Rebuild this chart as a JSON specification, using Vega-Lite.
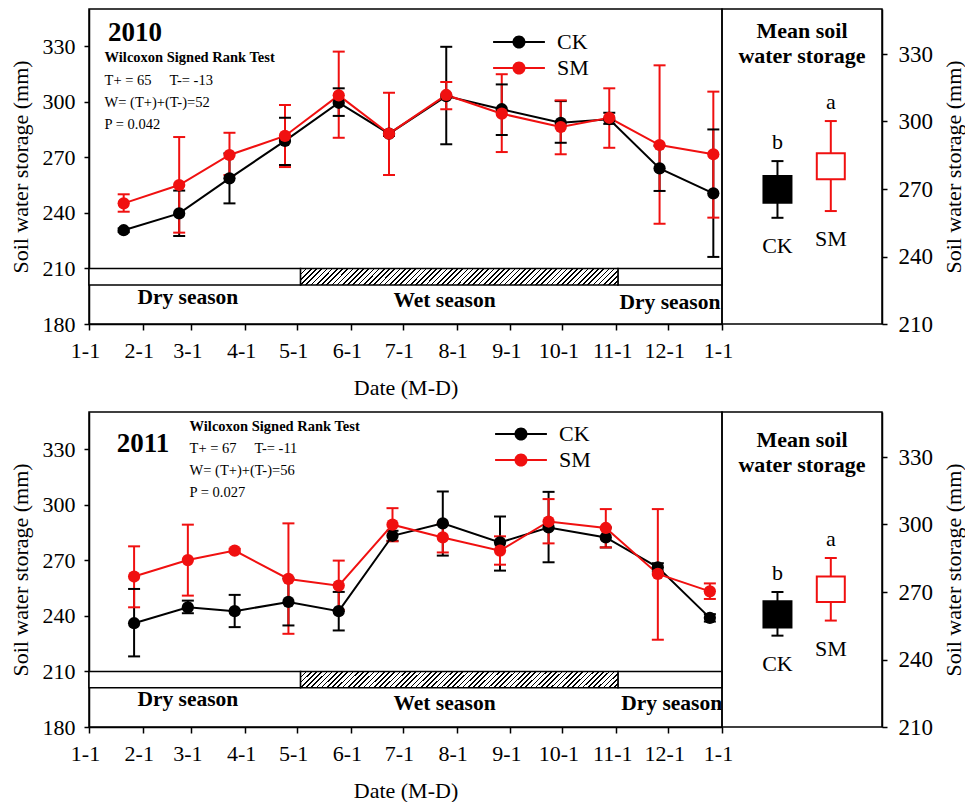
{
  "$schema": "https://vega.github.io/schema/vega-lite/v6.json",
  "padding": {"left": 8, "top": 8, "right": 0, "bottom": 0},
  "background": "white",
  "datasets": {
    "d2010": [
      {"date": "2010-01-21", "trt": "CK", "mean": 230.6, "lo": 229.6, "hi": 231.6},
      {"date": "2010-02-22", "trt": "CK", "mean": 239.7, "lo": 227.5, "hi": 252.0},
      {"date": "2010-03-23", "trt": "CK", "mean": 258.6, "lo": 245.1, "hi": 272.1},
      {"date": "2010-04-24", "trt": "CK", "mean": 278.8, "lo": 265.8, "hi": 291.3},
      {"date": "2010-05-25", "trt": "CK", "mean": 299.4, "lo": 292.3, "hi": 307.2},
      {"date": "2010-06-23", "trt": "CK", "mean": 282.7, "lo": 281.5, "hi": 283.9},
      {"date": "2010-07-26", "trt": "CK", "mean": 303.0, "lo": 277.0, "hi": 329.6},
      {"date": "2010-08-27", "trt": "CK", "mean": 295.9, "lo": 282.0, "hi": 309.3},
      {"date": "2010-09-30", "trt": "CK", "mean": 288.6, "lo": 277.8, "hi": 300.3},
      {"date": "2010-10-28", "trt": "CK", "mean": 290.5, "lo": 288.0, "hi": 294.0},
      {"date": "2010-11-26", "trt": "CK", "mean": 264.0, "lo": 251.8, "hi": 276.2},
      {"date": "2010-12-27", "trt": "CK", "mean": 250.5, "lo": 216.2, "hi": 285.0},
      {"date": "2010-01-21", "trt": "SM", "mean": 245.1, "lo": 240.6, "hi": 250.0},
      {"date": "2010-02-22", "trt": "SM", "mean": 255.0, "lo": 229.3, "hi": 280.9},
      {"date": "2010-03-23", "trt": "SM", "mean": 271.2, "lo": 260.4, "hi": 283.2},
      {"date": "2010-04-24", "trt": "SM", "mean": 281.5, "lo": 264.7, "hi": 298.2},
      {"date": "2010-05-25", "trt": "SM", "mean": 303.4, "lo": 280.5, "hi": 327.0},
      {"date": "2010-06-23", "trt": "SM", "mean": 282.7, "lo": 260.4, "hi": 304.8},
      {"date": "2010-07-26", "trt": "SM", "mean": 303.6, "lo": 295.9, "hi": 310.6},
      {"date": "2010-08-27", "trt": "SM", "mean": 293.5, "lo": 272.8, "hi": 314.8},
      {"date": "2010-09-30", "trt": "SM", "mean": 286.3, "lo": 271.6, "hi": 300.7},
      {"date": "2010-10-28", "trt": "SM", "mean": 291.3, "lo": 275.1, "hi": 307.2},
      {"date": "2010-11-26", "trt": "SM", "mean": 276.6, "lo": 234.1, "hi": 319.6},
      {"date": "2010-12-27", "trt": "SM", "mean": 271.6, "lo": 237.4, "hi": 305.4}
    ],
    "d2011": [
      {"date": "2011-01-27", "trt": "CK", "mean": 236.0, "lo": 218.1, "hi": 254.5},
      {"date": "2011-02-27", "trt": "CK", "mean": 244.6, "lo": 241.4, "hi": 248.2},
      {"date": "2011-03-26", "trt": "CK", "mean": 242.5, "lo": 233.9, "hi": 251.3},
      {"date": "2011-04-26", "trt": "CK", "mean": 247.5, "lo": 234.8, "hi": 260.2},
      {"date": "2011-05-25", "trt": "CK", "mean": 242.5, "lo": 232.1, "hi": 252.9},
      {"date": "2011-06-25", "trt": "CK", "mean": 283.2, "lo": 280.5, "hi": 285.9},
      {"date": "2011-07-24", "trt": "CK", "mean": 289.9, "lo": 272.5, "hi": 307.1},
      {"date": "2011-08-26", "trt": "CK", "mean": 279.6, "lo": 264.4, "hi": 293.6},
      {"date": "2011-09-23", "trt": "CK", "mean": 287.7, "lo": 268.9, "hi": 306.9},
      {"date": "2011-10-26", "trt": "CK", "mean": 282.3, "lo": 276.9, "hi": 287.7},
      {"date": "2011-11-25", "trt": "CK", "mean": 266.2, "lo": 264.0, "hi": 268.4},
      {"date": "2011-12-25", "trt": "CK", "mean": 238.9, "lo": 236.9, "hi": 240.9},
      {"date": "2011-01-27", "trt": "SM", "mean": 261.2, "lo": 244.6, "hi": 277.5},
      {"date": "2011-02-27", "trt": "SM", "mean": 270.1, "lo": 250.9, "hi": 289.2},
      {"date": "2011-03-26", "trt": "SM", "mean": 275.2, "lo": 274.2, "hi": 276.2},
      {"date": "2011-04-26", "trt": "SM", "mean": 259.9, "lo": 230.3, "hi": 289.9},
      {"date": "2011-05-25", "trt": "SM", "mean": 256.3, "lo": 243.2, "hi": 269.8},
      {"date": "2011-06-25", "trt": "SM", "mean": 289.2, "lo": 280.2, "hi": 298.1},
      {"date": "2011-07-24", "trt": "SM", "mean": 282.3, "lo": 274.2, "hi": 289.9},
      {"date": "2011-08-26", "trt": "SM", "mean": 275.2, "lo": 267.6, "hi": 282.9},
      {"date": "2011-09-23", "trt": "SM", "mean": 290.9, "lo": 279.1, "hi": 303.0},
      {"date": "2011-10-26", "trt": "SM", "mean": 287.4, "lo": 276.9, "hi": 297.6},
      {"date": "2011-11-25", "trt": "SM", "mean": 262.6, "lo": 227.1, "hi": 297.6},
      {"date": "2011-12-25", "trt": "SM", "mean": 253.2, "lo": 249.1, "hi": 257.5}
    ],
    "m2010": [
      {"trt": "CK", "box_lo": 263.9, "box_hi": 275.8, "wlo": 257.2, "whi": 282.4, "letter": "b"},
      {"trt": "SM", "box_lo": 274.3, "box_hi": 285.9, "wlo": 260.2, "whi": 300.2, "letter": "a"}
    ],
    "m2011": [
      {"trt": "CK", "box_lo": 254.2, "box_hi": 265.9, "wlo": 250.6, "whi": 270.0, "letter": "b"},
      {"trt": "SM", "box_lo": 265.6, "box_hi": 276.9, "wlo": 257.3, "whi": 285.1, "letter": "a"}
    ],
    "s2010": [
      {"season": "Dry", "start": "2010-01-01", "end": "2010-05-03"},
      {"season": "Wet", "start": "2010-05-03", "end": "2010-11-02"},
      {"season": "Dry", "start": "2010-11-02", "end": "2011-01-01"}
    ],
    "s2011": [
      {"season": "Dry", "start": "2011-01-01", "end": "2011-05-03"},
      {"season": "Wet", "start": "2011-05-03", "end": "2011-11-02"},
      {"season": "Dry", "start": "2011-11-02", "end": "2012-01-01"}
    ]
  },
  "config": {
    "font": "Liberation Serif",
    "view": {"stroke": "black", "strokeWidth": 1.5},
    "axis": {"grid": false, "domainColor": "black", "domainWidth": 1.5, "tickColor": "black", "tickWidth": 1.5, "tickSize": 5, "labelFont": "Liberation Serif", "labelFontSize": 22, "labelColor": "black", "labelPadding": 9, "titleFont": "Liberation Serif", "titleFontSize": 22, "titleFontWeight": "normal", "titleColor": "black"},
    "text": {"font": "Liberation Serif", "color": "black"},
    "title": {"font": "Liberation Serif", "color": "black"}
  },
  "spacing": 12,
  "resolve": {"scale": {"color": "independent", "fill": "independent", "stroke": "independent"}, "legend": {"color": "independent", "fill": "independent", "stroke": "independent"}},
  "vconcat": [
    {
      "spacing": 0,
      "bounds": "flush",
      "resolve": {"scale": {"color": "independent", "fill": "independent", "stroke": "independent"}, "legend": {"color": "independent", "fill": "independent", "stroke": "independent"}},
      "hconcat": [
        {
          "width": 633,
          "height": 315,
          "layer": [
            {
              "data": {"name": "s2010"},
              "transform": [{"filter": "datum.season === 'Dry'"}],
              "mark": {"type": "rect", "fill": "white", "stroke": "black", "strokeWidth": 1.5},
              "encoding": {
                "x": {"field": "start", "type": "temporal", "scale": {"type": "utc", "domain": [{"year": 2010, "month": 1, "date": 1, "utc": true}, {"year": 2011, "month": 1, "date": 1, "utc": true}]}, "axis": {"title": "Date (M-D)", "labelExpr": "utcFormat(datum.value, '%-m-%-d')", "tickCount": {"interval": "month", "step": 1}, "labelFlush": false, "labelOverlap": false, "labelOffset": -4, "labelPadding": 10, "tickSize": 6, "titlePadding": 16}},
                "x2": {"field": "end"},
                "y": {"datum": 201, "type": "quantitative", "scale": {"domain": [180, 350], "nice": false, "zero": false}, "axis": {"title": "Soil water storage (mm)", "values": [180, 210, 240, 270, 300, 330], "titlePadding": 10}},
                "y2": {"datum": 210}
              }
            },
            {
              "data": {"name": "s2010"},
              "transform": [{"filter": "datum.season === 'Wet'"}],
              "mark": {"type": "rect", "stroke": "black", "strokeWidth": 1.5,
                "fill": {"gradient": "linear", "x1": 0, "y1": 0, "x2": 1.05, "y2": 0.055, "stops": [
          {"offset": 0, "color": "#000"}, {"offset": 0.005, "color": "#000"}, {"offset": 0.005, "color": "#fff"}, {"offset": 0.015625, "color": "#fff"},
          {"offset": 0.015625, "color": "#000"}, {"offset": 0.020625, "color": "#000"}, {"offset": 0.020625, "color": "#fff"}, {"offset": 0.03125, "color": "#fff"},
          {"offset": 0.03125, "color": "#000"}, {"offset": 0.03625, "color": "#000"}, {"offset": 0.03625, "color": "#fff"}, {"offset": 0.046875, "color": "#fff"},
          {"offset": 0.046875, "color": "#000"}, {"offset": 0.051875, "color": "#000"}, {"offset": 0.051875, "color": "#fff"}, {"offset": 0.0625, "color": "#fff"},
          {"offset": 0.0625, "color": "#000"}, {"offset": 0.0675, "color": "#000"}, {"offset": 0.0675, "color": "#fff"}, {"offset": 0.078125, "color": "#fff"},
          {"offset": 0.078125, "color": "#000"}, {"offset": 0.083125, "color": "#000"}, {"offset": 0.083125, "color": "#fff"}, {"offset": 0.09375, "color": "#fff"},
          {"offset": 0.09375, "color": "#000"}, {"offset": 0.09875, "color": "#000"}, {"offset": 0.09875, "color": "#fff"}, {"offset": 0.109375, "color": "#fff"},
          {"offset": 0.109375, "color": "#000"}, {"offset": 0.114375, "color": "#000"}, {"offset": 0.114375, "color": "#fff"}, {"offset": 0.125, "color": "#fff"},
          {"offset": 0.125, "color": "#000"}, {"offset": 0.13, "color": "#000"}, {"offset": 0.13, "color": "#fff"}, {"offset": 0.140625, "color": "#fff"},
          {"offset": 0.140625, "color": "#000"}, {"offset": 0.145625, "color": "#000"}, {"offset": 0.145625, "color": "#fff"}, {"offset": 0.15625, "color": "#fff"},
          {"offset": 0.15625, "color": "#000"}, {"offset": 0.16125, "color": "#000"}, {"offset": 0.16125, "color": "#fff"}, {"offset": 0.171875, "color": "#fff"},
          {"offset": 0.171875, "color": "#000"}, {"offset": 0.176875, "color": "#000"}, {"offset": 0.176875, "color": "#fff"}, {"offset": 0.1875, "color": "#fff"},
          {"offset": 0.1875, "color": "#000"}, {"offset": 0.1925, "color": "#000"}, {"offset": 0.1925, "color": "#fff"}, {"offset": 0.203125, "color": "#fff"},
          {"offset": 0.203125, "color": "#000"}, {"offset": 0.208125, "color": "#000"}, {"offset": 0.208125, "color": "#fff"}, {"offset": 0.21875, "color": "#fff"},
          {"offset": 0.21875, "color": "#000"}, {"offset": 0.22375, "color": "#000"}, {"offset": 0.22375, "color": "#fff"}, {"offset": 0.234375, "color": "#fff"},
          {"offset": 0.234375, "color": "#000"}, {"offset": 0.239375, "color": "#000"}, {"offset": 0.239375, "color": "#fff"}, {"offset": 0.25, "color": "#fff"},
          {"offset": 0.25, "color": "#000"}, {"offset": 0.255, "color": "#000"}, {"offset": 0.255, "color": "#fff"}, {"offset": 0.265625, "color": "#fff"},
          {"offset": 0.265625, "color": "#000"}, {"offset": 0.270625, "color": "#000"}, {"offset": 0.270625, "color": "#fff"}, {"offset": 0.28125, "color": "#fff"},
          {"offset": 0.28125, "color": "#000"}, {"offset": 0.28625, "color": "#000"}, {"offset": 0.28625, "color": "#fff"}, {"offset": 0.296875, "color": "#fff"},
          {"offset": 0.296875, "color": "#000"}, {"offset": 0.301875, "color": "#000"}, {"offset": 0.301875, "color": "#fff"}, {"offset": 0.3125, "color": "#fff"},
          {"offset": 0.3125, "color": "#000"}, {"offset": 0.3175, "color": "#000"}, {"offset": 0.3175, "color": "#fff"}, {"offset": 0.328125, "color": "#fff"},
          {"offset": 0.328125, "color": "#000"}, {"offset": 0.333125, "color": "#000"}, {"offset": 0.333125, "color": "#fff"}, {"offset": 0.34375, "color": "#fff"},
          {"offset": 0.34375, "color": "#000"}, {"offset": 0.34875, "color": "#000"}, {"offset": 0.34875, "color": "#fff"}, {"offset": 0.359375, "color": "#fff"},
          {"offset": 0.359375, "color": "#000"}, {"offset": 0.364375, "color": "#000"}, {"offset": 0.364375, "color": "#fff"}, {"offset": 0.375, "color": "#fff"},
          {"offset": 0.375, "color": "#000"}, {"offset": 0.38, "color": "#000"}, {"offset": 0.38, "color": "#fff"}, {"offset": 0.390625, "color": "#fff"},
          {"offset": 0.390625, "color": "#000"}, {"offset": 0.395625, "color": "#000"}, {"offset": 0.395625, "color": "#fff"}, {"offset": 0.40625, "color": "#fff"},
          {"offset": 0.40625, "color": "#000"}, {"offset": 0.41125, "color": "#000"}, {"offset": 0.41125, "color": "#fff"}, {"offset": 0.421875, "color": "#fff"},
          {"offset": 0.421875, "color": "#000"}, {"offset": 0.426875, "color": "#000"}, {"offset": 0.426875, "color": "#fff"}, {"offset": 0.4375, "color": "#fff"},
          {"offset": 0.4375, "color": "#000"}, {"offset": 0.4425, "color": "#000"}, {"offset": 0.4425, "color": "#fff"}, {"offset": 0.453125, "color": "#fff"},
          {"offset": 0.453125, "color": "#000"}, {"offset": 0.458125, "color": "#000"}, {"offset": 0.458125, "color": "#fff"}, {"offset": 0.46875, "color": "#fff"},
          {"offset": 0.46875, "color": "#000"}, {"offset": 0.47375, "color": "#000"}, {"offset": 0.47375, "color": "#fff"}, {"offset": 0.484375, "color": "#fff"},
          {"offset": 0.484375, "color": "#000"}, {"offset": 0.489375, "color": "#000"}, {"offset": 0.489375, "color": "#fff"}, {"offset": 0.5, "color": "#fff"},
          {"offset": 0.5, "color": "#000"}, {"offset": 0.505, "color": "#000"}, {"offset": 0.505, "color": "#fff"}, {"offset": 0.515625, "color": "#fff"},
          {"offset": 0.515625, "color": "#000"}, {"offset": 0.520625, "color": "#000"}, {"offset": 0.520625, "color": "#fff"}, {"offset": 0.53125, "color": "#fff"},
          {"offset": 0.53125, "color": "#000"}, {"offset": 0.53625, "color": "#000"}, {"offset": 0.53625, "color": "#fff"}, {"offset": 0.546875, "color": "#fff"},
          {"offset": 0.546875, "color": "#000"}, {"offset": 0.551875, "color": "#000"}, {"offset": 0.551875, "color": "#fff"}, {"offset": 0.5625, "color": "#fff"},
          {"offset": 0.5625, "color": "#000"}, {"offset": 0.5675, "color": "#000"}, {"offset": 0.5675, "color": "#fff"}, {"offset": 0.578125, "color": "#fff"},
          {"offset": 0.578125, "color": "#000"}, {"offset": 0.583125, "color": "#000"}, {"offset": 0.583125, "color": "#fff"}, {"offset": 0.59375, "color": "#fff"},
          {"offset": 0.59375, "color": "#000"}, {"offset": 0.59875, "color": "#000"}, {"offset": 0.59875, "color": "#fff"}, {"offset": 0.609375, "color": "#fff"},
          {"offset": 0.609375, "color": "#000"}, {"offset": 0.614375, "color": "#000"}, {"offset": 0.614375, "color": "#fff"}, {"offset": 0.625, "color": "#fff"},
          {"offset": 0.625, "color": "#000"}, {"offset": 0.63, "color": "#000"}, {"offset": 0.63, "color": "#fff"}, {"offset": 0.640625, "color": "#fff"},
          {"offset": 0.640625, "color": "#000"}, {"offset": 0.645625, "color": "#000"}, {"offset": 0.645625, "color": "#fff"}, {"offset": 0.65625, "color": "#fff"},
          {"offset": 0.65625, "color": "#000"}, {"offset": 0.66125, "color": "#000"}, {"offset": 0.66125, "color": "#fff"}, {"offset": 0.671875, "color": "#fff"},
          {"offset": 0.671875, "color": "#000"}, {"offset": 0.676875, "color": "#000"}, {"offset": 0.676875, "color": "#fff"}, {"offset": 0.6875, "color": "#fff"},
          {"offset": 0.6875, "color": "#000"}, {"offset": 0.6925, "color": "#000"}, {"offset": 0.6925, "color": "#fff"}, {"offset": 0.703125, "color": "#fff"},
          {"offset": 0.703125, "color": "#000"}, {"offset": 0.708125, "color": "#000"}, {"offset": 0.708125, "color": "#fff"}, {"offset": 0.71875, "color": "#fff"},
          {"offset": 0.71875, "color": "#000"}, {"offset": 0.72375, "color": "#000"}, {"offset": 0.72375, "color": "#fff"}, {"offset": 0.734375, "color": "#fff"},
          {"offset": 0.734375, "color": "#000"}, {"offset": 0.739375, "color": "#000"}, {"offset": 0.739375, "color": "#fff"}, {"offset": 0.75, "color": "#fff"},
          {"offset": 0.75, "color": "#000"}, {"offset": 0.755, "color": "#000"}, {"offset": 0.755, "color": "#fff"}, {"offset": 0.765625, "color": "#fff"},
          {"offset": 0.765625, "color": "#000"}, {"offset": 0.770625, "color": "#000"}, {"offset": 0.770625, "color": "#fff"}, {"offset": 0.78125, "color": "#fff"},
          {"offset": 0.78125, "color": "#000"}, {"offset": 0.78625, "color": "#000"}, {"offset": 0.78625, "color": "#fff"}, {"offset": 0.796875, "color": "#fff"},
          {"offset": 0.796875, "color": "#000"}, {"offset": 0.801875, "color": "#000"}, {"offset": 0.801875, "color": "#fff"}, {"offset": 0.8125, "color": "#fff"},
          {"offset": 0.8125, "color": "#000"}, {"offset": 0.8175, "color": "#000"}, {"offset": 0.8175, "color": "#fff"}, {"offset": 0.828125, "color": "#fff"},
          {"offset": 0.828125, "color": "#000"}, {"offset": 0.833125, "color": "#000"}, {"offset": 0.833125, "color": "#fff"}, {"offset": 0.84375, "color": "#fff"},
          {"offset": 0.84375, "color": "#000"}, {"offset": 0.84875, "color": "#000"}, {"offset": 0.84875, "color": "#fff"}, {"offset": 0.859375, "color": "#fff"},
          {"offset": 0.859375, "color": "#000"}, {"offset": 0.864375, "color": "#000"}, {"offset": 0.864375, "color": "#fff"}, {"offset": 0.875, "color": "#fff"},
          {"offset": 0.875, "color": "#000"}, {"offset": 0.88, "color": "#000"}, {"offset": 0.88, "color": "#fff"}, {"offset": 0.890625, "color": "#fff"},
          {"offset": 0.890625, "color": "#000"}, {"offset": 0.895625, "color": "#000"}, {"offset": 0.895625, "color": "#fff"}, {"offset": 0.90625, "color": "#fff"},
          {"offset": 0.90625, "color": "#000"}, {"offset": 0.91125, "color": "#000"}, {"offset": 0.91125, "color": "#fff"}, {"offset": 0.921875, "color": "#fff"},
          {"offset": 0.921875, "color": "#000"}, {"offset": 0.926875, "color": "#000"}, {"offset": 0.926875, "color": "#fff"}, {"offset": 0.9375, "color": "#fff"},
          {"offset": 0.9375, "color": "#000"}, {"offset": 0.9425, "color": "#000"}, {"offset": 0.9425, "color": "#fff"}, {"offset": 0.953125, "color": "#fff"},
          {"offset": 0.953125, "color": "#000"}, {"offset": 0.958125, "color": "#000"}, {"offset": 0.958125, "color": "#fff"}, {"offset": 0.96875, "color": "#fff"},
          {"offset": 0.96875, "color": "#000"}, {"offset": 0.97375, "color": "#000"}, {"offset": 0.97375, "color": "#fff"}, {"offset": 0.984375, "color": "#fff"},
          {"offset": 0.984375, "color": "#000"}, {"offset": 0.989375, "color": "#000"}, {"offset": 0.989375, "color": "#fff"}, {"offset": 1, "color": "#fff"}
                ]}},
              "encoding": {
                "x": {"field": "start", "type": "temporal"},
                "x2": {"field": "end"},
                "y": {"datum": 201, "type": "quantitative"},
                "y2": {"datum": 210}
              }
            },
            {
              "data": {"values": [{}]},
              "mark": {"type": "text", "text": "Dry season", "fontSize": 21.5, "fontWeight": "bold", "align": "center", "baseline": "middle"},
              "encoding": {"x": {"datum": {"year": 2010, "month": 2, "date": 27, "utc": true}, "type": "temporal"}, "y": {"datum": 194.0, "type": "quantitative"}}
            },
            {
              "data": {"values": [{}]},
              "mark": {"type": "text", "text": "Wet season", "fontSize": 21.5, "fontWeight": "bold", "align": "center", "baseline": "middle"},
              "encoding": {"x": {"datum": {"year": 2010, "month": 7, "date": 25, "utc": true}, "type": "temporal"}, "y": {"datum": 192.4, "type": "quantitative"}}
            },
            {
              "data": {"values": [{}]},
              "mark": {"type": "text", "text": "Dry season", "fontSize": 21.5, "fontWeight": "bold", "align": "center", "baseline": "middle"},
              "encoding": {"x": {"datum": {"year": 2010, "month": 12, "date": 2, "utc": true}, "type": "temporal"}, "y": {"datum": 191.6, "type": "quantitative"}}
            },
            {
              "data": {"name": "d2010"},
              "mark": {"type": "rule", "strokeWidth": 2},
              "encoding": {
                "x": {"field": "date", "type": "temporal"},
                "y": {"field": "lo", "type": "quantitative"},
                "y2": {"field": "hi"},
                "color": {"condition": {"test": "datum.trt === 'SM'", "value": "#f01010"}, "value": "black"}
              }
            },
            {
              "data": {"name": "d2010"},
              "mark": {"type": "tick", "orient": "horizontal", "size": 12, "thickness": 2, "opacity": 1},
              "encoding": {
                "x": {"field": "date", "type": "temporal"},
                "y": {"field": "lo", "type": "quantitative"},
                "color": {"condition": {"test": "datum.trt === 'SM'", "value": "#f01010"}, "value": "black"}
              }
            },
            {
              "data": {"name": "d2010"},
              "mark": {"type": "tick", "orient": "horizontal", "size": 12, "thickness": 2, "opacity": 1},
              "encoding": {
                "x": {"field": "date", "type": "temporal"},
                "y": {"field": "hi", "type": "quantitative"},
                "color": {"condition": {"test": "datum.trt === 'SM'", "value": "#f01010"}, "value": "black"}
              }
            },
            {
              "data": {"name": "d2010"},
              "mark": {"type": "line", "strokeWidth": 2},
              "encoding": {
                "x": {"field": "date", "type": "temporal"},
                "y": {"field": "mean", "type": "quantitative"},
                "detail": {"field": "trt", "type": "nominal"},
                "color": {"condition": {"test": "datum.trt === 'SM'", "value": "#f01010"}, "value": "black"}
              }
            },
            {
              "data": {"name": "d2010"},
              "mark": {"type": "point", "filled": true, "size": 150, "opacity": 1},
              "encoding": {
                "x": {"field": "date", "type": "temporal"},
                "y": {"field": "mean", "type": "quantitative"},
                "color": {"field": "trt", "type": "nominal", "scale": {"domain": ["CK", "SM"], "range": ["black", "#f01010"]}, "legend": {"title": null, "orient": "none", "legendX": 419, "legendY": 22, "direction": "vertical", "padding": 0, "symbolType": "M-3.7,-0.14H-0.9V0.14H-3.7Z M0.9,-0.14H3.7V0.14H0.9Z M0.93,0A0.93,0.93 0 1 1 -0.93,0A0.93,0.93 0 1 1 0.93,0Z", "symbolSize": 196, "symbolStrokeWidth": 0, "labelFont": "Liberation Serif", "labelFontSize": 22, "labelColor": "black", "labelOffset": 27, "rowPadding": 4}}
              }
            },
            {
              "data": {"values": [{}]},
              "mark": {"type": "text", "text": "2010", "fontSize": 27, "fontWeight": "bold", "align": "left", "baseline": "middle"},
              "encoding": {"x": {"datum": {"year": 2010, "month": 1, "date": 12, "utc": true}, "type": "temporal"}, "y": {"datum": 337, "type": "quantitative"}}
            },
            {
              "data": {"values": [{}]},
              "mark": {"type": "text", "text": "Wilcoxon Signed Rank Test", "fontSize": 14.5, "fontWeight": "bold", "align": "left", "baseline": "middle"},
              "encoding": {"x": {"datum": {"year": 2010, "month": 1, "date": 10, "utc": true}, "type": "temporal"}, "y": {"datum": 323.5, "type": "quantitative"}}
            },
            {
              "data": {"values": [{}]},
              "mark": {"type": "text", "text": ["T+ = 65\u00a0\u00a0\u00a0\u00a0 T-= -13", "W= (T+)+(T-)=52", "P = 0.042"], "fontSize": 14.5, "lineHeight": 22, "align": "left", "baseline": "middle"},
              "encoding": {"x": {"datum": {"year": 2010, "month": 1, "date": 10, "utc": true}, "type": "temporal"}, "y": {"datum": 311.1, "type": "quantitative"}}
            }
          ]
        },
        {
          "width": 160,
          "height": 315,
          "data": {"name": "m2010"},
          "title": {"text": ["Mean soil", "water storage"], "fontSize": 22, "fontWeight": "bold", "anchor": "middle", "offset": -59, "lineHeight": 25},
          "encoding": {
            "x": {"field": "trt", "type": "nominal", "scale": {"type": "point", "padding": 1.17, "align": 0.52}, "axis": null}
          },
          "layer": [
            {
              "mark": {"type": "rule", "strokeWidth": 2},
              "encoding": {
                "y": {"field": "wlo", "type": "quantitative", "scale": {"domain": [210, 350], "nice": false, "zero": false}, "axis": {"orient": "right", "title": "Soil water storage (mm)", "values": [210, 240, 270, 300, 330], "titleAngle": 270, "titlePadding": 33, "labelPadding": 11, "labelFontSize": 23}},
                "y2": {"field": "whi"},
                "color": {"condition": {"test": "datum.trt === 'SM'", "value": "#f01010"}, "value": "black"}
              }
            },
            {
              "mark": {"type": "tick", "orient": "horizontal", "size": 12, "thickness": 2, "opacity": 1},
              "encoding": {
                "y": {"field": "wlo", "type": "quantitative"},
                "color": {"condition": {"test": "datum.trt === 'SM'", "value": "#f01010"}, "value": "black"}
              }
            },
            {
              "mark": {"type": "tick", "orient": "horizontal", "size": 12, "thickness": 2, "opacity": 1},
              "encoding": {
                "y": {"field": "whi", "type": "quantitative"},
                "color": {"condition": {"test": "datum.trt === 'SM'", "value": "#f01010"}, "value": "black"}
              }
            },
            {
              "mark": {"type": "bar", "width": 28, "strokeWidth": 2},
              "encoding": {
                "y": {"field": "box_lo", "type": "quantitative"},
                "y2": {"field": "box_hi"},
                "fill": {"condition": {"test": "datum.trt === 'SM'", "value": "white"}, "value": "black"},
                "stroke": {"condition": {"test": "datum.trt === 'SM'", "value": "#f01010"}, "value": "black"}
              }
            },
            {
              "mark": {"type": "text", "fontSize": 22, "baseline": "alphabetic", "dy": -12},
              "encoding": {
                "y": {"field": "whi", "type": "quantitative"},
                "text": {"field": "letter"}
              }
            },
            {
              "mark": {"type": "text", "fontSize": 22, "baseline": "middle", "dy": 28},
              "encoding": {
                "y": {"field": "wlo", "type": "quantitative"},
                "text": {"field": "trt"}
              }
            }
          ]
        }
      ]
    },
    {
      "spacing": 0,
      "bounds": "flush",
      "resolve": {"scale": {"color": "independent", "fill": "independent", "stroke": "independent"}, "legend": {"color": "independent", "fill": "independent", "stroke": "independent"}},
      "hconcat": [
        {
          "width": 633,
          "height": 315,
          "layer": [
            {
              "data": {"name": "s2011"},
              "transform": [{"filter": "datum.season === 'Dry'"}],
              "mark": {"type": "rect", "fill": "white", "stroke": "black", "strokeWidth": 1.5},
              "encoding": {
                "x": {"field": "start", "type": "temporal", "scale": {"type": "utc", "domain": [{"year": 2011, "month": 1, "date": 1, "utc": true}, {"year": 2012, "month": 1, "date": 1, "utc": true}]}, "axis": {"title": "Date (M-D)", "labelExpr": "utcFormat(datum.value, '%-m-%-d')", "tickCount": {"interval": "month", "step": 1}, "labelFlush": false, "labelOverlap": false, "labelOffset": -4, "labelPadding": 10, "tickSize": 6, "titlePadding": 16}},
                "x2": {"field": "end"},
                "y": {"datum": 201.2, "type": "quantitative", "scale": {"domain": [180, 350], "nice": false, "zero": false}, "axis": {"title": "Soil water storage (mm)", "values": [180, 210, 240, 270, 300, 330], "titlePadding": 10}},
                "y2": {"datum": 210}
              }
            },
            {
              "data": {"name": "s2011"},
              "transform": [{"filter": "datum.season === 'Wet'"}],
              "mark": {"type": "rect", "stroke": "black", "strokeWidth": 1.5,
                "fill": {"gradient": "linear", "x1": 0, "y1": 0, "x2": 1.05, "y2": 0.055, "stops": [
          {"offset": 0, "color": "#000"}, {"offset": 0.005, "color": "#000"}, {"offset": 0.005, "color": "#fff"}, {"offset": 0.015625, "color": "#fff"},
          {"offset": 0.015625, "color": "#000"}, {"offset": 0.020625, "color": "#000"}, {"offset": 0.020625, "color": "#fff"}, {"offset": 0.03125, "color": "#fff"},
          {"offset": 0.03125, "color": "#000"}, {"offset": 0.03625, "color": "#000"}, {"offset": 0.03625, "color": "#fff"}, {"offset": 0.046875, "color": "#fff"},
          {"offset": 0.046875, "color": "#000"}, {"offset": 0.051875, "color": "#000"}, {"offset": 0.051875, "color": "#fff"}, {"offset": 0.0625, "color": "#fff"},
          {"offset": 0.0625, "color": "#000"}, {"offset": 0.0675, "color": "#000"}, {"offset": 0.0675, "color": "#fff"}, {"offset": 0.078125, "color": "#fff"},
          {"offset": 0.078125, "color": "#000"}, {"offset": 0.083125, "color": "#000"}, {"offset": 0.083125, "color": "#fff"}, {"offset": 0.09375, "color": "#fff"},
          {"offset": 0.09375, "color": "#000"}, {"offset": 0.09875, "color": "#000"}, {"offset": 0.09875, "color": "#fff"}, {"offset": 0.109375, "color": "#fff"},
          {"offset": 0.109375, "color": "#000"}, {"offset": 0.114375, "color": "#000"}, {"offset": 0.114375, "color": "#fff"}, {"offset": 0.125, "color": "#fff"},
          {"offset": 0.125, "color": "#000"}, {"offset": 0.13, "color": "#000"}, {"offset": 0.13, "color": "#fff"}, {"offset": 0.140625, "color": "#fff"},
          {"offset": 0.140625, "color": "#000"}, {"offset": 0.145625, "color": "#000"}, {"offset": 0.145625, "color": "#fff"}, {"offset": 0.15625, "color": "#fff"},
          {"offset": 0.15625, "color": "#000"}, {"offset": 0.16125, "color": "#000"}, {"offset": 0.16125, "color": "#fff"}, {"offset": 0.171875, "color": "#fff"},
          {"offset": 0.171875, "color": "#000"}, {"offset": 0.176875, "color": "#000"}, {"offset": 0.176875, "color": "#fff"}, {"offset": 0.1875, "color": "#fff"},
          {"offset": 0.1875, "color": "#000"}, {"offset": 0.1925, "color": "#000"}, {"offset": 0.1925, "color": "#fff"}, {"offset": 0.203125, "color": "#fff"},
          {"offset": 0.203125, "color": "#000"}, {"offset": 0.208125, "color": "#000"}, {"offset": 0.208125, "color": "#fff"}, {"offset": 0.21875, "color": "#fff"},
          {"offset": 0.21875, "color": "#000"}, {"offset": 0.22375, "color": "#000"}, {"offset": 0.22375, "color": "#fff"}, {"offset": 0.234375, "color": "#fff"},
          {"offset": 0.234375, "color": "#000"}, {"offset": 0.239375, "color": "#000"}, {"offset": 0.239375, "color": "#fff"}, {"offset": 0.25, "color": "#fff"},
          {"offset": 0.25, "color": "#000"}, {"offset": 0.255, "color": "#000"}, {"offset": 0.255, "color": "#fff"}, {"offset": 0.265625, "color": "#fff"},
          {"offset": 0.265625, "color": "#000"}, {"offset": 0.270625, "color": "#000"}, {"offset": 0.270625, "color": "#fff"}, {"offset": 0.28125, "color": "#fff"},
          {"offset": 0.28125, "color": "#000"}, {"offset": 0.28625, "color": "#000"}, {"offset": 0.28625, "color": "#fff"}, {"offset": 0.296875, "color": "#fff"},
          {"offset": 0.296875, "color": "#000"}, {"offset": 0.301875, "color": "#000"}, {"offset": 0.301875, "color": "#fff"}, {"offset": 0.3125, "color": "#fff"},
          {"offset": 0.3125, "color": "#000"}, {"offset": 0.3175, "color": "#000"}, {"offset": 0.3175, "color": "#fff"}, {"offset": 0.328125, "color": "#fff"},
          {"offset": 0.328125, "color": "#000"}, {"offset": 0.333125, "color": "#000"}, {"offset": 0.333125, "color": "#fff"}, {"offset": 0.34375, "color": "#fff"},
          {"offset": 0.34375, "color": "#000"}, {"offset": 0.34875, "color": "#000"}, {"offset": 0.34875, "color": "#fff"}, {"offset": 0.359375, "color": "#fff"},
          {"offset": 0.359375, "color": "#000"}, {"offset": 0.364375, "color": "#000"}, {"offset": 0.364375, "color": "#fff"}, {"offset": 0.375, "color": "#fff"},
          {"offset": 0.375, "color": "#000"}, {"offset": 0.38, "color": "#000"}, {"offset": 0.38, "color": "#fff"}, {"offset": 0.390625, "color": "#fff"},
          {"offset": 0.390625, "color": "#000"}, {"offset": 0.395625, "color": "#000"}, {"offset": 0.395625, "color": "#fff"}, {"offset": 0.40625, "color": "#fff"},
          {"offset": 0.40625, "color": "#000"}, {"offset": 0.41125, "color": "#000"}, {"offset": 0.41125, "color": "#fff"}, {"offset": 0.421875, "color": "#fff"},
          {"offset": 0.421875, "color": "#000"}, {"offset": 0.426875, "color": "#000"}, {"offset": 0.426875, "color": "#fff"}, {"offset": 0.4375, "color": "#fff"},
          {"offset": 0.4375, "color": "#000"}, {"offset": 0.4425, "color": "#000"}, {"offset": 0.4425, "color": "#fff"}, {"offset": 0.453125, "color": "#fff"},
          {"offset": 0.453125, "color": "#000"}, {"offset": 0.458125, "color": "#000"}, {"offset": 0.458125, "color": "#fff"}, {"offset": 0.46875, "color": "#fff"},
          {"offset": 0.46875, "color": "#000"}, {"offset": 0.47375, "color": "#000"}, {"offset": 0.47375, "color": "#fff"}, {"offset": 0.484375, "color": "#fff"},
          {"offset": 0.484375, "color": "#000"}, {"offset": 0.489375, "color": "#000"}, {"offset": 0.489375, "color": "#fff"}, {"offset": 0.5, "color": "#fff"},
          {"offset": 0.5, "color": "#000"}, {"offset": 0.505, "color": "#000"}, {"offset": 0.505, "color": "#fff"}, {"offset": 0.515625, "color": "#fff"},
          {"offset": 0.515625, "color": "#000"}, {"offset": 0.520625, "color": "#000"}, {"offset": 0.520625, "color": "#fff"}, {"offset": 0.53125, "color": "#fff"},
          {"offset": 0.53125, "color": "#000"}, {"offset": 0.53625, "color": "#000"}, {"offset": 0.53625, "color": "#fff"}, {"offset": 0.546875, "color": "#fff"},
          {"offset": 0.546875, "color": "#000"}, {"offset": 0.551875, "color": "#000"}, {"offset": 0.551875, "color": "#fff"}, {"offset": 0.5625, "color": "#fff"},
          {"offset": 0.5625, "color": "#000"}, {"offset": 0.5675, "color": "#000"}, {"offset": 0.5675, "color": "#fff"}, {"offset": 0.578125, "color": "#fff"},
          {"offset": 0.578125, "color": "#000"}, {"offset": 0.583125, "color": "#000"}, {"offset": 0.583125, "color": "#fff"}, {"offset": 0.59375, "color": "#fff"},
          {"offset": 0.59375, "color": "#000"}, {"offset": 0.59875, "color": "#000"}, {"offset": 0.59875, "color": "#fff"}, {"offset": 0.609375, "color": "#fff"},
          {"offset": 0.609375, "color": "#000"}, {"offset": 0.614375, "color": "#000"}, {"offset": 0.614375, "color": "#fff"}, {"offset": 0.625, "color": "#fff"},
          {"offset": 0.625, "color": "#000"}, {"offset": 0.63, "color": "#000"}, {"offset": 0.63, "color": "#fff"}, {"offset": 0.640625, "color": "#fff"},
          {"offset": 0.640625, "color": "#000"}, {"offset": 0.645625, "color": "#000"}, {"offset": 0.645625, "color": "#fff"}, {"offset": 0.65625, "color": "#fff"},
          {"offset": 0.65625, "color": "#000"}, {"offset": 0.66125, "color": "#000"}, {"offset": 0.66125, "color": "#fff"}, {"offset": 0.671875, "color": "#fff"},
          {"offset": 0.671875, "color": "#000"}, {"offset": 0.676875, "color": "#000"}, {"offset": 0.676875, "color": "#fff"}, {"offset": 0.6875, "color": "#fff"},
          {"offset": 0.6875, "color": "#000"}, {"offset": 0.6925, "color": "#000"}, {"offset": 0.6925, "color": "#fff"}, {"offset": 0.703125, "color": "#fff"},
          {"offset": 0.703125, "color": "#000"}, {"offset": 0.708125, "color": "#000"}, {"offset": 0.708125, "color": "#fff"}, {"offset": 0.71875, "color": "#fff"},
          {"offset": 0.71875, "color": "#000"}, {"offset": 0.72375, "color": "#000"}, {"offset": 0.72375, "color": "#fff"}, {"offset": 0.734375, "color": "#fff"},
          {"offset": 0.734375, "color": "#000"}, {"offset": 0.739375, "color": "#000"}, {"offset": 0.739375, "color": "#fff"}, {"offset": 0.75, "color": "#fff"},
          {"offset": 0.75, "color": "#000"}, {"offset": 0.755, "color": "#000"}, {"offset": 0.755, "color": "#fff"}, {"offset": 0.765625, "color": "#fff"},
          {"offset": 0.765625, "color": "#000"}, {"offset": 0.770625, "color": "#000"}, {"offset": 0.770625, "color": "#fff"}, {"offset": 0.78125, "color": "#fff"},
          {"offset": 0.78125, "color": "#000"}, {"offset": 0.78625, "color": "#000"}, {"offset": 0.78625, "color": "#fff"}, {"offset": 0.796875, "color": "#fff"},
          {"offset": 0.796875, "color": "#000"}, {"offset": 0.801875, "color": "#000"}, {"offset": 0.801875, "color": "#fff"}, {"offset": 0.8125, "color": "#fff"},
          {"offset": 0.8125, "color": "#000"}, {"offset": 0.8175, "color": "#000"}, {"offset": 0.8175, "color": "#fff"}, {"offset": 0.828125, "color": "#fff"},
          {"offset": 0.828125, "color": "#000"}, {"offset": 0.833125, "color": "#000"}, {"offset": 0.833125, "color": "#fff"}, {"offset": 0.84375, "color": "#fff"},
          {"offset": 0.84375, "color": "#000"}, {"offset": 0.84875, "color": "#000"}, {"offset": 0.84875, "color": "#fff"}, {"offset": 0.859375, "color": "#fff"},
          {"offset": 0.859375, "color": "#000"}, {"offset": 0.864375, "color": "#000"}, {"offset": 0.864375, "color": "#fff"}, {"offset": 0.875, "color": "#fff"},
          {"offset": 0.875, "color": "#000"}, {"offset": 0.88, "color": "#000"}, {"offset": 0.88, "color": "#fff"}, {"offset": 0.890625, "color": "#fff"},
          {"offset": 0.890625, "color": "#000"}, {"offset": 0.895625, "color": "#000"}, {"offset": 0.895625, "color": "#fff"}, {"offset": 0.90625, "color": "#fff"},
          {"offset": 0.90625, "color": "#000"}, {"offset": 0.91125, "color": "#000"}, {"offset": 0.91125, "color": "#fff"}, {"offset": 0.921875, "color": "#fff"},
          {"offset": 0.921875, "color": "#000"}, {"offset": 0.926875, "color": "#000"}, {"offset": 0.926875, "color": "#fff"}, {"offset": 0.9375, "color": "#fff"},
          {"offset": 0.9375, "color": "#000"}, {"offset": 0.9425, "color": "#000"}, {"offset": 0.9425, "color": "#fff"}, {"offset": 0.953125, "color": "#fff"},
          {"offset": 0.953125, "color": "#000"}, {"offset": 0.958125, "color": "#000"}, {"offset": 0.958125, "color": "#fff"}, {"offset": 0.96875, "color": "#fff"},
          {"offset": 0.96875, "color": "#000"}, {"offset": 0.97375, "color": "#000"}, {"offset": 0.97375, "color": "#fff"}, {"offset": 0.984375, "color": "#fff"},
          {"offset": 0.984375, "color": "#000"}, {"offset": 0.989375, "color": "#000"}, {"offset": 0.989375, "color": "#fff"}, {"offset": 1, "color": "#fff"}
                ]}},
              "encoding": {
                "x": {"field": "start", "type": "temporal"},
                "x2": {"field": "end"},
                "y": {"datum": 201.2, "type": "quantitative"},
                "y2": {"datum": 210}
              }
            },
            {
              "data": {"values": [{}]},
              "mark": {"type": "text", "text": "Dry season", "fontSize": 21.5, "fontWeight": "bold", "align": "center", "baseline": "middle"},
              "encoding": {"x": {"datum": {"year": 2011, "month": 2, "date": 27, "utc": true}, "type": "temporal"}, "y": {"datum": 194.4, "type": "quantitative"}}
            },
            {
              "data": {"values": [{}]},
              "mark": {"type": "text", "text": "Wet season", "fontSize": 21.5, "fontWeight": "bold", "align": "center", "baseline": "middle"},
              "encoding": {"x": {"datum": {"year": 2011, "month": 7, "date": 25, "utc": true}, "type": "temporal"}, "y": {"datum": 192.6, "type": "quantitative"}}
            },
            {
              "data": {"values": [{}]},
              "mark": {"type": "text", "text": "Dry season", "fontSize": 21.5, "fontWeight": "bold", "align": "center", "baseline": "middle"},
              "encoding": {"x": {"datum": {"year": 2011, "month": 12, "date": 3, "utc": true}, "type": "temporal"}, "y": {"datum": 192.2, "type": "quantitative"}}
            },
            {
              "data": {"name": "d2011"},
              "mark": {"type": "rule", "strokeWidth": 2},
              "encoding": {
                "x": {"field": "date", "type": "temporal"},
                "y": {"field": "lo", "type": "quantitative"},
                "y2": {"field": "hi"},
                "color": {"condition": {"test": "datum.trt === 'SM'", "value": "#f01010"}, "value": "black"}
              }
            },
            {
              "data": {"name": "d2011"},
              "mark": {"type": "tick", "orient": "horizontal", "size": 12, "thickness": 2, "opacity": 1},
              "encoding": {
                "x": {"field": "date", "type": "temporal"},
                "y": {"field": "lo", "type": "quantitative"},
                "color": {"condition": {"test": "datum.trt === 'SM'", "value": "#f01010"}, "value": "black"}
              }
            },
            {
              "data": {"name": "d2011"},
              "mark": {"type": "tick", "orient": "horizontal", "size": 12, "thickness": 2, "opacity": 1},
              "encoding": {
                "x": {"field": "date", "type": "temporal"},
                "y": {"field": "hi", "type": "quantitative"},
                "color": {"condition": {"test": "datum.trt === 'SM'", "value": "#f01010"}, "value": "black"}
              }
            },
            {
              "data": {"name": "d2011"},
              "mark": {"type": "line", "strokeWidth": 2},
              "encoding": {
                "x": {"field": "date", "type": "temporal"},
                "y": {"field": "mean", "type": "quantitative"},
                "detail": {"field": "trt", "type": "nominal"},
                "color": {"condition": {"test": "datum.trt === 'SM'", "value": "#f01010"}, "value": "black"}
              }
            },
            {
              "data": {"name": "d2011"},
              "mark": {"type": "point", "filled": true, "size": 150, "opacity": 1},
              "encoding": {
                "x": {"field": "date", "type": "temporal"},
                "y": {"field": "mean", "type": "quantitative"},
                "color": {"field": "trt", "type": "nominal", "scale": {"domain": ["CK", "SM"], "range": ["black", "#f01010"]}, "legend": {"title": null, "orient": "none", "legendX": 421, "legendY": 11, "direction": "vertical", "padding": 0, "symbolType": "M-3.7,-0.14H-0.9V0.14H-3.7Z M0.9,-0.14H3.7V0.14H0.9Z M0.93,0A0.93,0.93 0 1 1 -0.93,0A0.93,0.93 0 1 1 0.93,0Z", "symbolSize": 196, "symbolStrokeWidth": 0, "labelFont": "Liberation Serif", "labelFontSize": 22, "labelColor": "black", "labelOffset": 27, "rowPadding": 4}}
              }
            },
            {
              "data": {"values": [{}]},
              "mark": {"type": "text", "text": "2011", "fontSize": 27, "fontWeight": "bold", "align": "left", "baseline": "middle"},
              "encoding": {"x": {"datum": {"year": 2011, "month": 1, "date": 17, "utc": true}, "type": "temporal"}, "y": {"datum": 332.9, "type": "quantitative"}}
            },
            {
              "data": {"values": [{}]},
              "mark": {"type": "text", "text": "Wilcoxon Signed Rank Test", "fontSize": 14.5, "fontWeight": "bold", "align": "left", "baseline": "middle"},
              "encoding": {"x": {"datum": {"year": 2011, "month": 2, "date": 28, "utc": true}, "type": "temporal"}, "y": {"datum": 341.9, "type": "quantitative"}}
            },
            {
              "data": {"values": [{}]},
              "mark": {"type": "text", "text": ["T+ = 67\u00a0\u00a0\u00a0\u00a0 T-= -11", "W= (T+)+(T-)=56", "P = 0.027"], "fontSize": 14.5, "lineHeight": 22, "align": "left", "baseline": "middle"},
              "encoding": {"x": {"datum": {"year": 2011, "month": 2, "date": 28, "utc": true}, "type": "temporal"}, "y": {"datum": 330.0, "type": "quantitative"}}
            }
          ]
        },
        {
          "width": 160,
          "height": 315,
          "data": {"name": "m2011"},
          "title": {"text": ["Mean soil", "water storage"], "fontSize": 22, "fontWeight": "bold", "anchor": "middle", "offset": -65, "lineHeight": 25},
          "encoding": {
            "x": {"field": "trt", "type": "nominal", "scale": {"type": "point", "padding": 1.17, "align": 0.52}, "axis": null}
          },
          "layer": [
            {
              "mark": {"type": "rule", "strokeWidth": 2},
              "encoding": {
                "y": {"field": "wlo", "type": "quantitative", "scale": {"domain": [210, 350], "nice": false, "zero": false}, "axis": {"orient": "right", "title": "Soil water storage (mm)", "values": [210, 240, 270, 300, 330], "titleAngle": 270, "titlePadding": 33, "labelPadding": 11, "labelFontSize": 23}},
                "y2": {"field": "whi"},
                "color": {"condition": {"test": "datum.trt === 'SM'", "value": "#f01010"}, "value": "black"}
              }
            },
            {
              "mark": {"type": "tick", "orient": "horizontal", "size": 12, "thickness": 2, "opacity": 1},
              "encoding": {
                "y": {"field": "wlo", "type": "quantitative"},
                "color": {"condition": {"test": "datum.trt === 'SM'", "value": "#f01010"}, "value": "black"}
              }
            },
            {
              "mark": {"type": "tick", "orient": "horizontal", "size": 12, "thickness": 2, "opacity": 1},
              "encoding": {
                "y": {"field": "whi", "type": "quantitative"},
                "color": {"condition": {"test": "datum.trt === 'SM'", "value": "#f01010"}, "value": "black"}
              }
            },
            {
              "mark": {"type": "bar", "width": 28, "strokeWidth": 2},
              "encoding": {
                "y": {"field": "box_lo", "type": "quantitative"},
                "y2": {"field": "box_hi"},
                "fill": {"condition": {"test": "datum.trt === 'SM'", "value": "white"}, "value": "black"},
                "stroke": {"condition": {"test": "datum.trt === 'SM'", "value": "#f01010"}, "value": "black"}
              }
            },
            {
              "mark": {"type": "text", "fontSize": 22, "baseline": "alphabetic", "dy": -12},
              "encoding": {
                "y": {"field": "whi", "type": "quantitative"},
                "text": {"field": "letter"}
              }
            },
            {
              "mark": {"type": "text", "fontSize": 22, "baseline": "middle", "dy": 28},
              "encoding": {
                "y": {"field": "wlo", "type": "quantitative"},
                "text": {"field": "trt"}
              }
            }
          ]
        }
      ]
    }
  ]
}
